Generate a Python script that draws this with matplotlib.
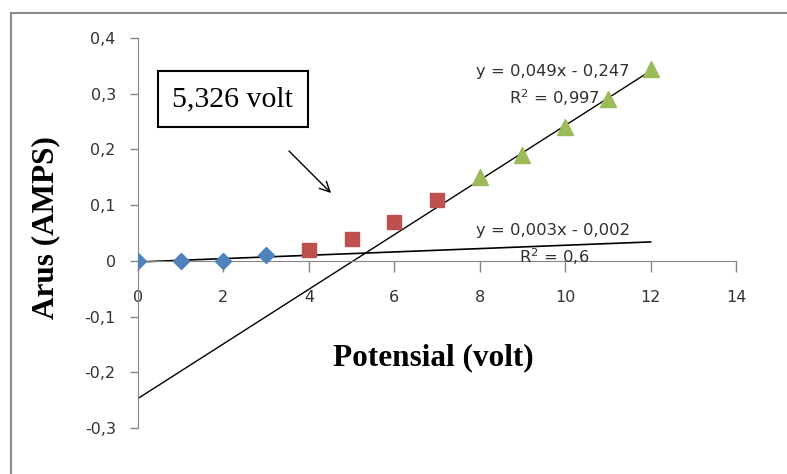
import matplotlib
matplotlib.use("Agg")
import matplotlib.pyplot as plt
import numpy as np
from matplotlib.lines import Line2D

# Data
x_blue = [0, 1, 2, 3]
y_blue = [0.0, 0.0, 0.0, 0.01]
x_red = [4, 5, 6, 7]
y_red = [0.02, 0.04, 0.07, 0.11]
x_green = [8, 9, 10, 11, 12]
y_green = [0.15, 0.19, 0.24, 0.29, 0.345]

fit1 = (0.049, -0.247)   # y = 0,049x - 0,247
fit2 = (0.003, -0.002)   # y = 0,003x - 0,002
fit_range = [0, 12]

xticks = [0, 2, 4, 6, 8, 10, 12, 14]
yticks = [-0.3, -0.2, -0.1, 0, 0.1, 0.2, 0.3, 0.4]
ytick_labels = ["-0,3", "-0,2", "-0,1", "0", "0,1", "0,2", "0,3", "0,4"]

W, H = 787, 474
fig = plt.figure(figsize=(W / 100, H / 100), dpi=100)
fig.patch.set_facecolor("white")

def fx(px):
    return px / W

def fy(py):
    return 1 - py / H

# outer border
fig.add_artist(Line2D([fx(11), fx(11)], [fy(13), 0], color="#8c8c8c", lw=1.5, transform=fig.transFigure))
fig.add_artist(Line2D([fx(11), 1], [fy(13), fy(13)], color="#8c8c8c", lw=1.5, transform=fig.transFigure))

ax = fig.add_axes([fx(138), fy(428), fx(736) - fx(138), fy(38) - fy(428)])
ax.set_xlim(0, 14)
ax.set_ylim(-0.3, 0.4)
ax.patch.set_alpha(0)

for s in ["top", "right"]:
    ax.spines[s].set_visible(False)
ax.spines["bottom"].set_position(("data", 0))
ax.spines["bottom"].set_color("#868686")
ax.spines["left"].set_color("#868686")

ax.set_xticks(xticks)
ax.set_xticklabels([str(t) for t in xticks])
ax.set_yticks(yticks)
ax.set_yticklabels(ytick_labels)
ax.tick_params(axis="x", direction="out", length=8, width=1, color="#868686", pad=13,
               labelsize=11.5, labelcolor="#333333")
ax.tick_params(axis="y", direction="out", length=6, width=1, color="#868686", pad=10,
               labelsize=11.5, labelcolor="#333333")

# trendlines
xr = np.array(fit_range, dtype=float)
ax.plot(xr, fit1[0] * xr + fit1[1], color="black", lw=1.0, zorder=2)
ax.plot(xr, fit2[0] * xr + fit2[1], color="black", lw=1.2, zorder=2)

# markers
ax.plot(x_blue, y_blue, linestyle="none", marker="D", markersize=8, color="#4F81BD", zorder=3)
ax.plot(x_red, y_red, linestyle="none", marker="s", markersize=10, color="#C0504D", zorder=3)
ax.plot(x_green, y_green, linestyle="none", marker="^", markersize=11, color="#9BBB59", zorder=3)

# equations
eqkw = dict(fontsize=11.8, color="#303030", ha="center", va="center", family="DejaVu Sans")
ax.text(9.72, 0.339, "y = 0,049x - 0,247", **eqkw)
ax.text(9.75, 0.293, "R$^2$ = 0,997", **eqkw)
ax.text(9.72, 0.055, "y = 0,003x - 0,002", **eqkw)
ax.text(9.75, 0.008, "R$^2$ = 0,6", **eqkw)

# axis titles
fig.text(fx(433), fy(358), "Potensial (volt)", fontsize=22.5, fontweight="bold",
         family="Liberation Serif", ha="center", va="center")
fig.text(fx(46), fy(228), "Arus (AMPS)", fontsize=22.5, fontweight="bold",
         family="Liberation Serif", ha="center", va="center", rotation=90)

# boxed annotation
fig.text(fx(233), fy(99), "5,326 volt", fontsize=21.5, family="Liberation Serif",
         ha="center", va="center",
         bbox=dict(boxstyle="square,pad=0.5", facecolor="white", edgecolor="black", lw=1.5))
ax.annotate("", xy=(fx(333), fy(195)), xycoords="figure fraction",
            xytext=(fx(287), fy(149)), textcoords="figure fraction",
            arrowprops=dict(arrowstyle="->", color="black", lw=1, mutation_scale=18))

fig.savefig("out.png", dpi=100)
